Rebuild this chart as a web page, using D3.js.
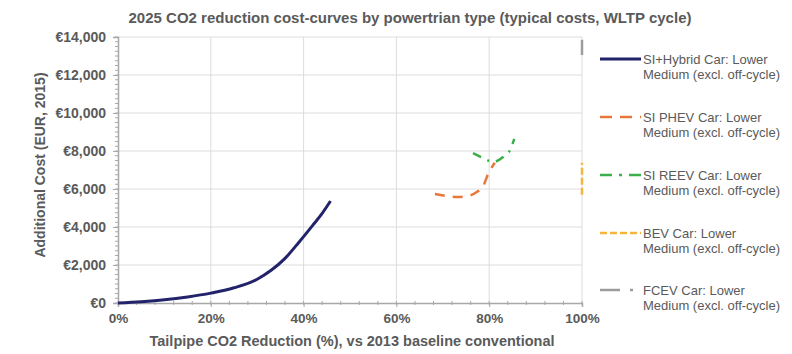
<!DOCTYPE html>
<html><head><meta charset="utf-8">
<script src="https://cdn.jsdelivr.net/npm/d3@7"></script>
<style>body{margin:0;background:#fff}svg{display:block}text{font-family:"Liberation Sans",Arial,sans-serif}</style>
</head><body><svg id="c" width="792" height="354"></svg>
<script>
const title = "2025 CO2 reduction cost-curves by powertrian type (typical costs, WLTP cycle)";
const xLabel = "Tailpipe CO2 Reduction (%), vs 2013 baseline conventional";
const yLabel = "Additional Cost (EUR, 2015)";
const xTicks = [0, 20, 40, 60, 80, 100];
const yTicks = [0, 2000, 4000, 6000, 8000, 10000, 12000, 14000];

const seriesNames = ["SI+Hybrid Car: Lower|Medium (excl. off-cycle)", "SI PHEV Car: Lower|Medium (excl. off-cycle)", "SI REEV Car: Lower|Medium (excl. off-cycle)", "BEV Car: Lower|Medium (excl. off-cycle)", "FCEV Car: Lower|Medium (excl. off-cycle)"];
const seriesColors = ["#23236b", "#e8773a", "#3bb04a", "#f4b63a", "#9c9c9c"];

const hybridX = [0, 5, 10, 15, 20, 25, 30, 33, 36, 39, 42, 44, 45.8];
const hybridY = [0, 70, 170, 320, 520, 800, 1250, 1720, 2350, 3200, 4100, 4720, 5370];
const phevX = [68.3, 70.9, 73.1, 75.4, 77.4, 78.7, 79.7, 81.2];
const phevY = [5740, 5630, 5580, 5630, 5850, 6150, 6750, 7380];
const reevX = [76.5, 78.7, 80.8, 83, 84.5, 85.4];
const reevY = [7890, 7630, 7420, 7680, 8050, 8640];
const bevX = [100, 100];
const bevY = [5700, 7380];
const fcevX = [100, 100];
const fcevY = [13050, 13850];

const svg = d3.select("#c");
const x = d3.scaleLinear().domain([0, 100]).range([118, 582]);
const y = d3.scaleLinear().domain([0, 14000]).range([303, 37]);
const textCol = "#5a5a5a";

// gridlines
svg.append("g").selectAll("line").data(yTicks.slice(1)).join("line")
  .attr("x1", x(0)).attr("x2", x(100)).attr("y1", d => y(d)).attr("y2", d => y(d))
  .attr("stroke", "#dcdcdc").attr("stroke-width", 1);
svg.append("g").selectAll("line").data(xTicks.slice(1)).join("line")
  .attr("x1", d => x(d)).attr("x2", d => x(d)).attr("y1", y(0)).attr("y2", y(14000))
  .attr("stroke", "#dcdcdc").attr("stroke-width", 1);

// axes
const yAxis = svg.append("g").attr("transform", `translate(${x(0)},0)`)
  .call(d3.axisLeft(y).tickValues(yTicks).tickSize(5).tickFormat(d => "€" + d3.format(",")(d)));
const xAxis = svg.append("g").attr("transform", `translate(0,${y(0)})`)
  .call(d3.axisBottom(x).tickValues(xTicks).tickSize(4).tickFormat(d => d + "%"));
[yAxis, xAxis].forEach(a => {
  a.select(".domain").attr("stroke", "#a8a8a8").attr("stroke-width", 1.5);
  a.selectAll(".tick line").attr("stroke", "#a8a8a8");
  a.selectAll("text").attr("fill", textCol).attr("font-weight", "bold");
});
yAxis.selectAll("text").attr("x", -12).attr("font-size", 14);
xAxis.selectAll("text").attr("y", 10).attr("font-size", 13.5);
// minor ticks
svg.append("g").selectAll("line").data(d3.range(0, 14001, 250)).join("line")
  .attr("x1", x(0) - 3).attr("x2", x(0)).attr("y1", d => y(d)).attr("y2", d => y(d))
  .attr("stroke", "#a8a8a8");
svg.append("g").selectAll("line").data(d3.range(0, 101, 4)).join("line")
  .attr("x1", d => x(d)).attr("x2", d => x(d)).attr("y1", y(0) - 2).attr("y2", y(0) + 2)
  .attr("stroke", "#a8a8a8");

// series
const mono = d3.line().x(d => x(d[0])).y(d => y(d[1])).curve(d3.curveMonotoneX);
const vline = d3.line().x(d => x(d[0])).y(d => y(d[1]));
const series = [
  {xs: hybridX, ys: hybridY, dash: null, w: 3, gen: mono},
  {xs: phevX, ys: phevY, dash: "10,8", w: 2.5, gen: mono},
  {xs: reevX, ys: reevY, dash: "9,7,2,7", w: 2.5, gen: mono},
  {xs: bevX, ys: bevY, dash: "7,3", w: 2.5, gen: vline},
  {xs: fcevX, ys: fcevY, dash: null, w: 2.5, gen: vline}
];
series.forEach((s, i) => {
  const pts = s.xs.map((v, j) => [v, s.ys[j]]);
  svg.append("path").attr("d", s.gen(pts)).attr("fill", "none")
    .attr("stroke", seriesColors[i]).attr("stroke-width", s.w)
    .attr("stroke-dasharray", s.dash);
});

// legend
const legDash = [null, "12,8", "12,7,3,7", "7,3", "20,10,3,10"];
const legY = [59, 117, 175, 233, 290];
const lg = svg.append("g");
seriesNames.forEach((n, i) => {
  lg.append("line").attr("x1", 600).attr("x2", 641).attr("y1", legY[i]).attr("y2", legY[i])
    .attr("stroke", seriesColors[i]).attr("stroke-width", i === 0 ? 3 : 2.5)
    .attr("stroke-dasharray", legDash[i]);
  const parts = n.split("|");
  parts.forEach((p, k) => {
    lg.append("text").attr("x", 643).attr("y", legY[i] + 5 + k * 15).text(p)
      .attr("fill", textCol).attr("font-size", 13);
  });
});

// titles
svg.append("text").attr("x", 410).attr("y", 23).attr("text-anchor", "middle")
  .attr("font-size", 15).attr("font-weight", "bold").attr("fill", textCol).text(title);
svg.append("text").attr("x", 352).attr("y", 346).attr("text-anchor", "middle")
  .attr("font-size", 14.5).attr("font-weight", "bold").attr("fill", textCol).text(xLabel);
svg.append("text").attr("transform", "translate(45,165) rotate(-90)").attr("text-anchor", "middle")
  .attr("font-size", 14).attr("font-weight", "bold").attr("fill", textCol).text(yLabel);
</script></body></html>
